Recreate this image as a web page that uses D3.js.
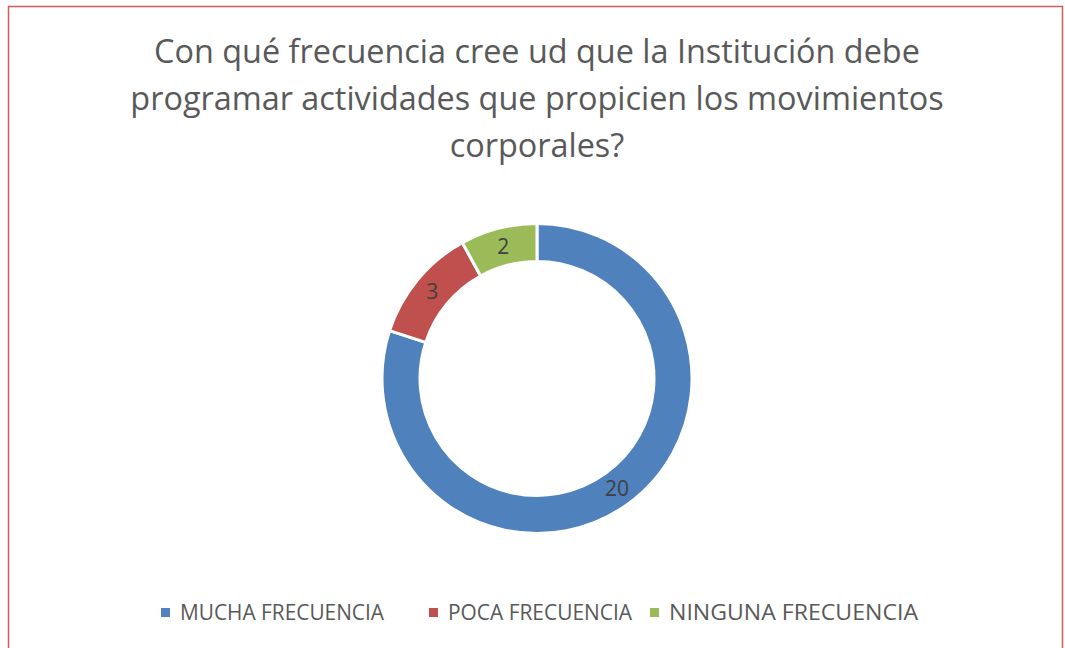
<!DOCTYPE html>
<html>
<head>
<meta charset="utf-8">
<script src="https://cdn.jsdelivr.net/npm/d3@7"></script>
<style>
  body { margin: 0; background: #fff; }
  svg { display: block; }
</style>
</head>
<body>
<div id="chart"></div>
<script>
// Datos del gráfico
const categorias = ["MUCHA FRECUENCIA", "POCA FRECUENCIA", "NINGUNA FRECUENCIA"];
const valores = [20, 3, 2];
const colores = ["#4f81bd", "#c0504d", "#9bbb59"];
const tituloLineas = [
  "Con qué frecuencia cree ud que la Institución debe",
  "programar actividades que propicien los movimientos",
  "corporales?"
];

const width = 1065, height = 648;
const svg = d3.select("#chart")
  .append("svg")
  .attr("width", width)
  .attr("height", height);

svg.append("rect")
  .attr("width", width)
  .attr("height", height)
  .attr("fill", "#fff");

// Rahmen
svg.append("rect")
  .attr("x", 8.5)
  .attr("y", 6.5)
  .attr("width", 1054)
  .attr("height", 700)
  .attr("fill", "none")
  .attr("stroke", "#d45a5a")
  .attr("stroke-width", 1.5);

// Titel
const titulo = svg.append("text")
  .attr("text-anchor", "middle")
  .style("font-family", "'Open Sans', sans-serif")
  .style("font-size", "32.4px")
  .attr("fill", "#595959");

titulo.selectAll("tspan")
  .data(tituloLineas)
  .join("tspan")
  .attr("x", 537)
  .attr("y", (d, i) => 63 + i * 47)
  .text(d => d);

// Donut
const cx = 537, cy = 378.5;
const rOuter = 155, rInner = 117;

const pie = d3.pie().sort(null).value(d => d);
const arc = d3.arc().innerRadius(rInner).outerRadius(rOuter);
const arcLabel = d3.arc().innerRadius(136).outerRadius(136);

const g = svg.append("g").attr("transform", `translate(${cx},${cy})`);
const arcs = pie(valores);

g.selectAll("path")
  .data(arcs)
  .join("path")
  .attr("d", arc)
  .attr("fill", (d, i) => colores[i])
  .attr("stroke", "#fff")
  .attr("stroke-width", 3);

g.selectAll("text")
  .data(arcs)
  .join("text")
  .attr("transform", d => `translate(${arcLabel.centroid(d)})`)
  .attr("text-anchor", "middle")
  .attr("dy", "0.35em")
  .style("font-family", "'Open Sans', sans-serif")
  .style("font-size", "21px")
  .attr("fill", "#404040")
  .text(d => d.data);

// Legende
const legendX = [161, 429, 650];
const legendW = [204, 184, 249]; // Breite der Beschriftung wie im Original
const leg = svg.selectAll("g.leg")
  .data(categorias)
  .join("g")
  .attr("class", "leg")
  .attr("transform", (d, i) => `translate(${legendX[i]}, 612)`);

leg.append("rect")
  .attr("x", 0)
  .attr("y", -4)
  .attr("width", 9)
  .attr("height", 9)
  .attr("fill", (d, i) => colores[i]);

leg.append("text")
  .attr("x", 19)
  .attr("y", 0)
  .attr("dy", "0.36em")
  .attr("textLength", (d, i) => legendW[i])
  .attr("lengthAdjust", "spacingAndGlyphs")
  .style("font-family", "'Open Sans', sans-serif")
  .style("font-size", "21.5px")
  .attr("fill", "#595959")
  .text(d => d);
</script>
</body>
</html>
